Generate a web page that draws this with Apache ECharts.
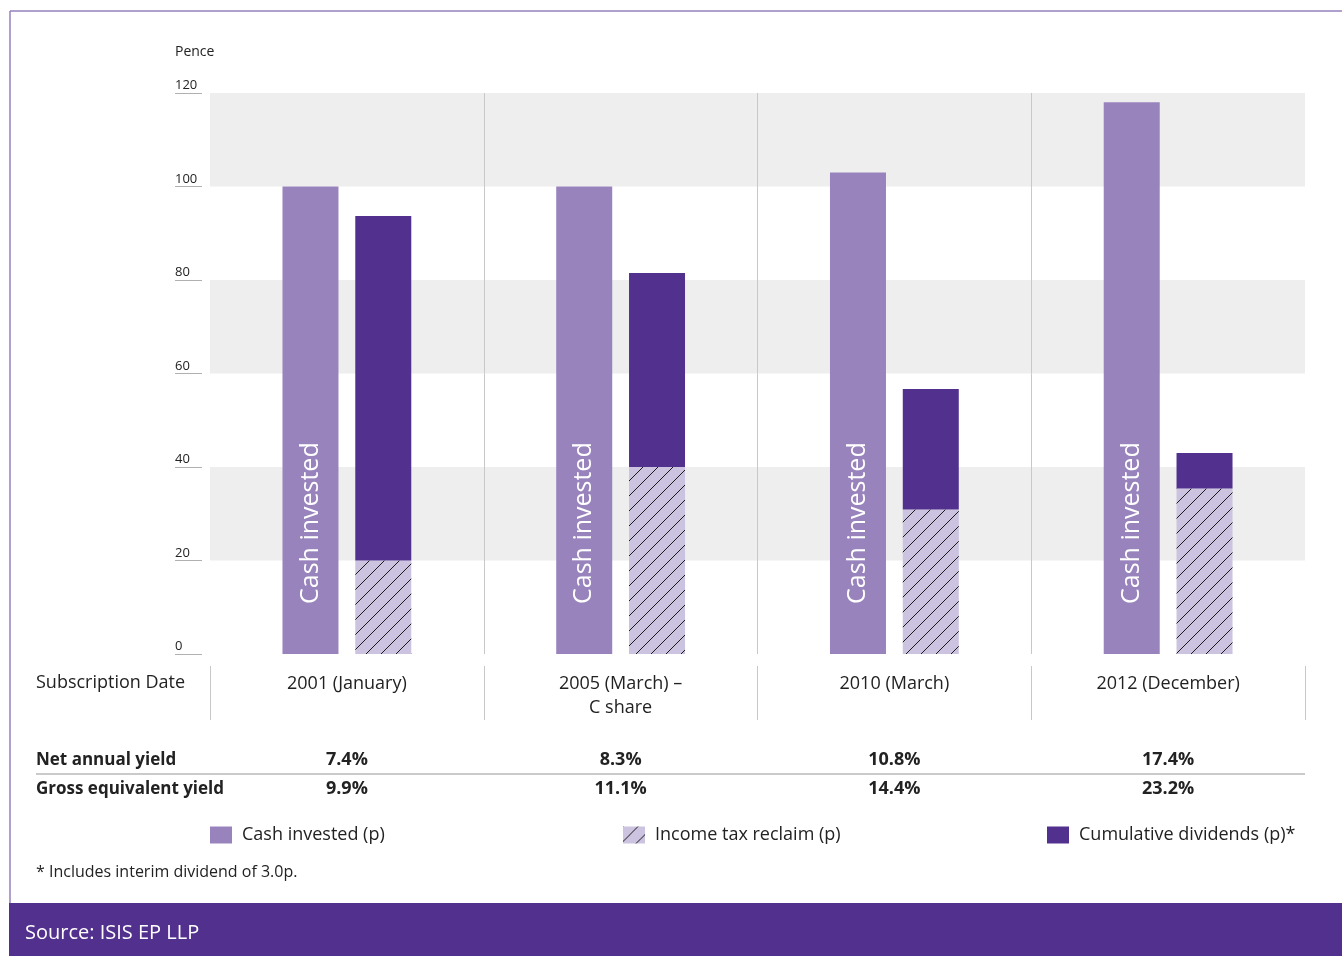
<!DOCTYPE html>
<html>
<head>
<meta charset="utf-8">
<title>Cash invested vs returns</title>
<script src="https://cdn.jsdelivr.net/npm/echarts@6/dist/echarts.min.js"></script>
<style>
  html, body { margin: 0; padding: 0; background: #ffffff; }
  #chart { width: 1342px; height: 956px; }
</style>
</head>
<body>
<div id="chart"></div>
<script>
// Subscription rounds and the pence figures for each
const categories = ['2001 (January)', '2005 (March) –\nC share', '2010 (March)', '2012 (December)'];
const cashInvested = [100, 100, 103, 118];
const taxReclaim = [20, 40, 30.9, 35.4];
const dividends = [73.7, 41.5, 25.8, 7.6];
const netYield = ['7.4%', '8.3%', '10.8%', '17.4%'];
const grossYield = ['9.9%', '11.1%', '14.4%', '23.2%'];
const yMin = 0, yMax = 120, yStep = 20;

const FONT = '"Open Sans", "Noto Sans", sans-serif';
const INK = '#222222';
const LIGHT_PURPLE = '#9883bc';
const DARK_PURPLE = '#52308e';
const HATCH_FILL = '#cbc3df';

// Diagonal hatch used for the tax-reclaim segments
function makeHatch() {
  const s = 15;
  const c = document.createElement('canvas');
  c.width = s; c.height = s;
  const g = c.getContext('2d');
  g.fillStyle = HATCH_FILL;
  g.fillRect(0, 0, s, s);
  g.strokeStyle = '#1a1a1a';
  g.lineWidth = 1;
  g.beginPath();
  g.moveTo(0, s); g.lineTo(s, 0);
  g.moveTo(-2, 2); g.lineTo(2, -2);
  g.moveTo(s - 2, s + 2); g.lineTo(s + 2, s - 2);
  g.stroke();
  return { image: c, repeat: 'repeat' };
}
const hatch = makeHatch();

const chart = echarts.init(document.getElementById('chart'), null, { renderer: 'canvas' });

const legendText = { color: INK, fontSize: 18, fontFamily: FONT, padding: [0, 0, 0, 5] };

const option = {
  backgroundColor: '#ffffff',
  animation: false,
  textStyle: { fontFamily: FONT },
  grid: [
    { left: 210, right: 37, top: 93, height: 561 },
    { left: 210, right: 37, top: 666, height: 54 }
  ],
  xAxis: [
    {
      type: 'category', gridIndex: 0, data: categories,
      axisLine: { show: false }, axisTick: { show: false },
      axisLabel: { color: INK, fontSize: 18, fontFamily: FONT, margin: 18, verticalAlign: 'top', lineHeight: 24, interval: 0 },
      splitLine: { show: true, showMinLine: false, showMaxLine: false, lineStyle: { color: '#c8c8c8', width: 1 } }
    },
    {
      type: 'category', gridIndex: 1, data: categories,
      axisLine: { show: false }, axisTick: { show: false }, axisLabel: { show: false },
      splitLine: { show: true, lineStyle: { color: '#c8c8c8', width: 1 } }
    },
    {
      type: 'category', gridIndex: 1, data: netYield, position: 'bottom',
      axisLine: { show: false }, axisTick: { show: false },
      axisLabel: { color: INK, fontSize: 18, fontWeight: 'bold', fontFamily: FONT, margin: 40, verticalAlign: 'middle', interval: 0 },
      splitLine: { show: false }
    },
    {
      type: 'category', gridIndex: 1, data: grossYield, position: 'bottom',
      axisLine: { show: false }, axisTick: { show: false },
      axisLabel: { color: INK, fontSize: 18, fontWeight: 'bold', fontFamily: FONT, margin: 69, verticalAlign: 'middle', interval: 0 },
      splitLine: { show: false }
    }
  ],
  yAxis: [
    {
      type: 'value', gridIndex: 0, min: yMin, max: yMax, interval: yStep,
      offset: 8,
      axisLine: { show: false },
      axisTick: { show: true, length: 27, lineStyle: { color: '#b0b0b0', width: 1 } },
      axisLabel: { color: INK, fontSize: 13, fontFamily: FONT, align: 'left', margin: 27, verticalAlign: 'bottom', padding: [0, 0, 1, 0] },
      splitLine: { show: false },
      splitArea: { show: true, areaStyle: { color: ['rgba(255,255,255,0)', '#eeeeee'] } }
    },
    { type: 'value', gridIndex: 1, min: 0, max: 1, show: false }
  ],
  legend: [
    { data: ['Cash invested (p)'], left: 210, top: 826, padding: 0, icon: 'rect', itemWidth: 22, itemHeight: 17, textStyle: legendText },
    { data: ['Income tax reclaim (p)'], left: 623, top: 826, padding: 0, icon: 'rect', itemWidth: 22, itemHeight: 17, textStyle: legendText },
    { data: ['Cumulative dividends (p)*'], left: 1047, top: 826, padding: 0, icon: 'rect', itemWidth: 22, itemHeight: 17, textStyle: legendText }
  ],
  series: [
    {
      name: 'Cash invested (p)', type: 'bar', xAxisIndex: 0, yAxisIndex: 0, stack: 'cash',
      data: cashInvested, barWidth: 56, barGap: '30%',
      itemStyle: { color: LIGHT_PURPLE },
      label: {
        show: true, position: 'insideBottom', rotate: 90, align: 'left', verticalAlign: 'middle',
        distance: 50, formatter: 'Cash invested', color: '#ffffff', fontSize: 25, fontFamily: FONT
      }
    },
    {
      name: 'Income tax reclaim (p)', type: 'bar', xAxisIndex: 0, yAxisIndex: 0, stack: 'return',
      data: taxReclaim, barWidth: 56,
      itemStyle: { color: hatch }
    },
    {
      name: 'Cumulative dividends (p)*', type: 'bar', xAxisIndex: 0, yAxisIndex: 0, stack: 'return',
      data: dividends, barWidth: 56,
      itemStyle: { color: DARK_PURPLE }
    }
  ],
  graphic: [
    // frame
    { type: 'line', shape: { x1: 10, y1: 11, x2: 1342, y2: 11 }, style: { stroke: '#9580bd', lineWidth: 1.5 }, silent: true },
    { type: 'line', shape: { x1: 10, y1: 11, x2: 10, y2: 903 }, style: { stroke: '#9580bd', lineWidth: 1.5 }, silent: true },
    // footer band
    { type: 'rect', shape: { x: 9, y: 903, width: 1333, height: 53 }, style: { fill: DARK_PURPLE }, silent: true },
    { type: 'text', left: 25, top: 923, style: { text: 'Source: ISIS EP LLP', fill: '#ffffff', font: '20px ' + FONT } },
    // axis unit
    { type: 'text', left: 175, top: 45, style: { text: 'Pence', fill: INK, font: '14px ' + FONT } },
    // table row headers
    { type: 'text', left: 36, top: 674, style: { text: 'Subscription Date', fill: INK, font: '18px ' + FONT } },
    { type: 'text', left: 36, top: 752, style: { text: 'Net annual yield', fill: INK, font: 'bold 17px ' + FONT } },
    { type: 'text', left: 36, top: 781, style: { text: 'Gross equivalent yield', fill: INK, font: 'bold 17px ' + FONT } },
    { type: 'line', shape: { x1: 36, y1: 774, x2: 1305, y2: 774 }, style: { stroke: '#b8b8b8', lineWidth: 1.5 }, silent: true },
    // footnote
    { type: 'text', left: 36, top: 864, style: { text: '* Includes interim dividend of 3.0p.', fill: INK, font: '16px ' + FONT } }
  ]
};

chart.setOption(option);
</script>
</body>
</html>
